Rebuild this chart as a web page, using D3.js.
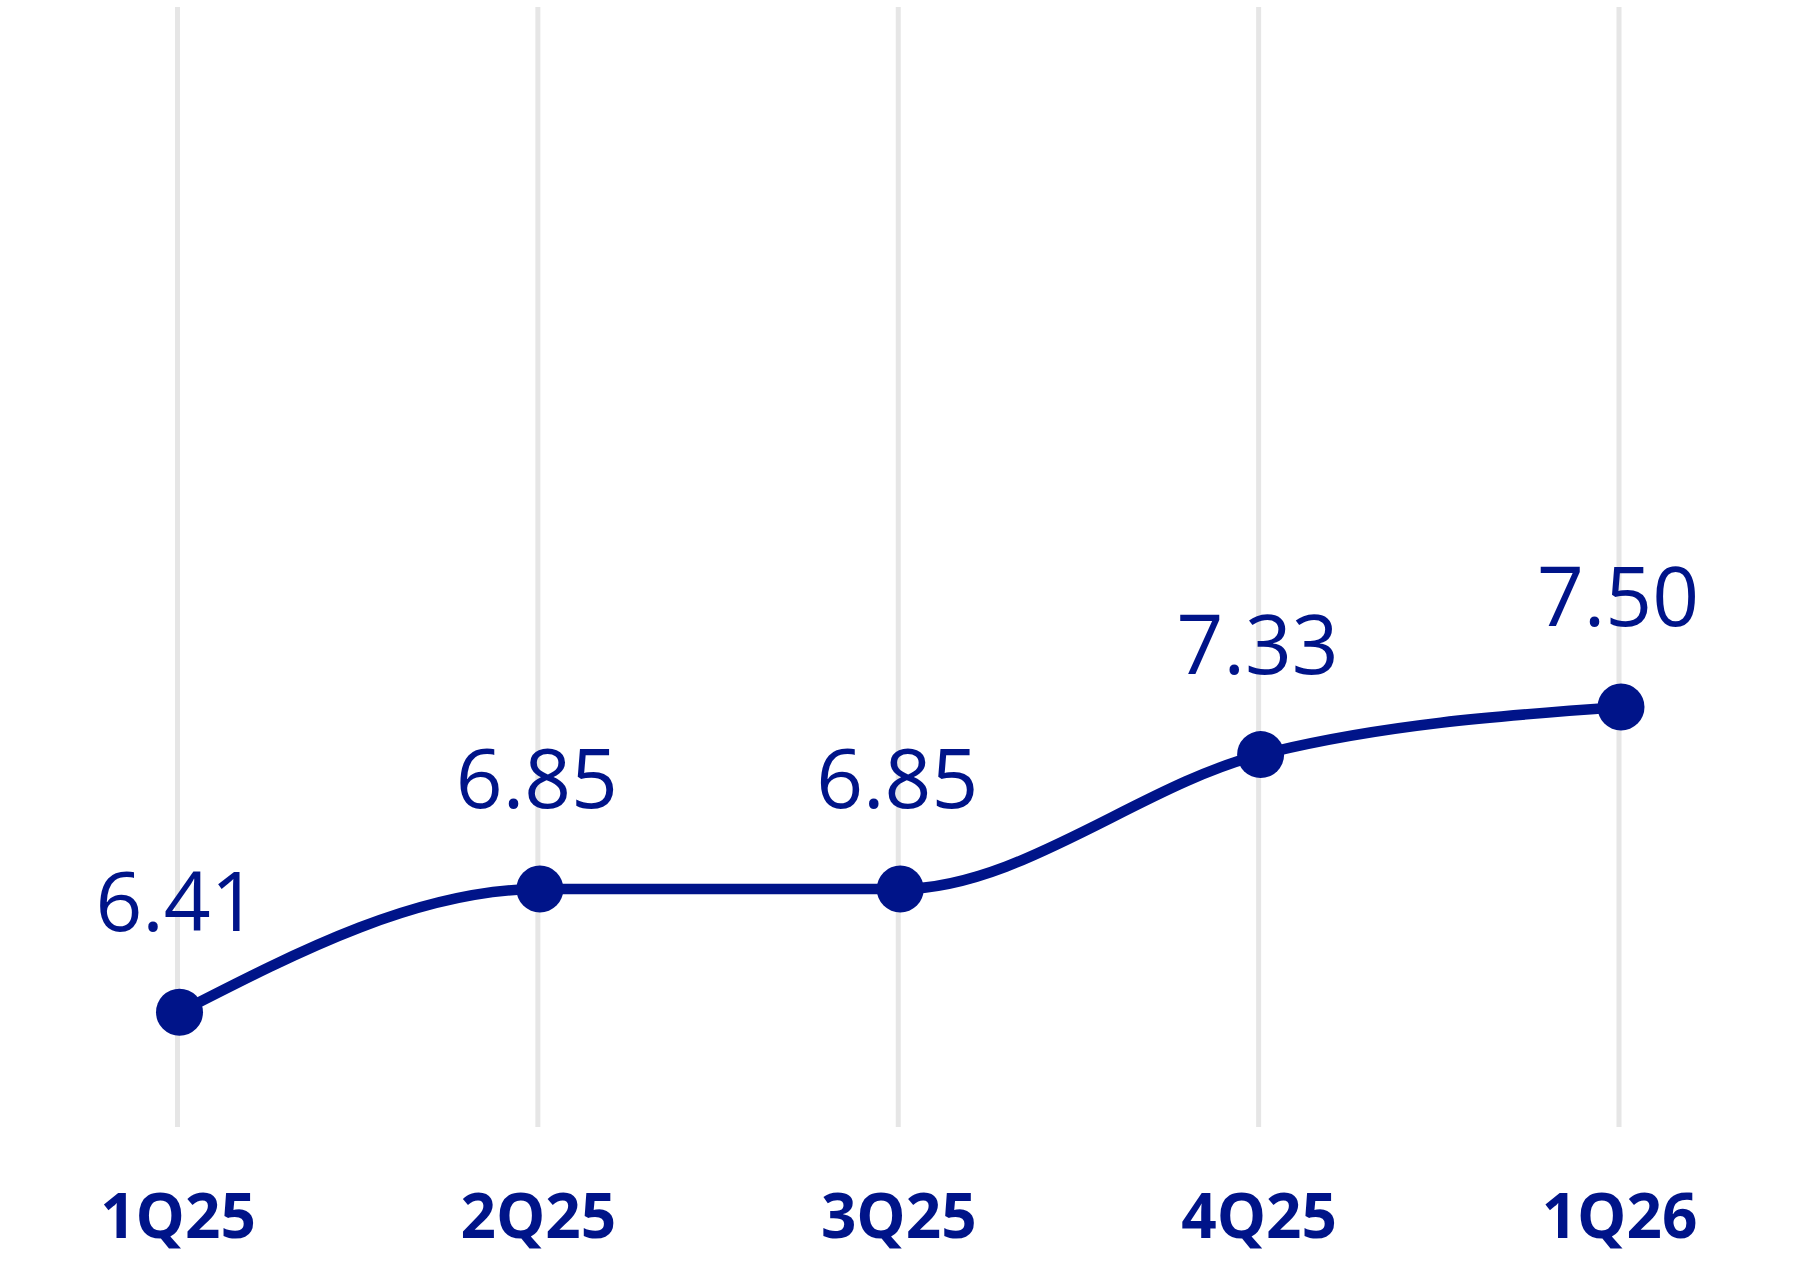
<!DOCTYPE html>
<html>
<head>
<meta charset="utf-8">
<script src="https://cdn.jsdelivr.net/npm/d3@7"></script>
<style>
  body { margin: 0; background: #fff; }
  svg { display: block; }
</style>
</head>
<body>
<svg></svg>
<script>
const quarters = [ '1Q25', '2Q25', '3Q25', '4Q25', '1Q26' ];
const values = [ 6.41, 6.85, 6.85, 7.33, 7.50 ];
const valueLabels = [ '6.41', '6.85', '6.85', '7.33', '7.50' ];

const width = 1800;
const height = 1266;
const navy = '#001489';

let svg = d3.select( 'svg' )
  .attr( 'width', width )
  .attr( 'height', height );

let x = d3.scalePoint()
  .domain( quarters )
  .range( [ 179.5, 1621 ] );

// plot area runs from the top of the grid lines to their bottom
let y = d3.scaleLinear()
  .domain( [ 6, 10 ] )
  .range( [ 1127, 7 ] );

// vertical grid lines
svg.append( 'g' )
  .selectAll( 'line' )
  .data( quarters )
  .enter().append( 'line' )
  .attr( 'x1', d => x( d ) - 2 )
  .attr( 'x2', d => x( d ) - 2 )
  .attr( 'y1', y.range()[ 1 ] )
  .attr( 'y2', y.range()[ 0 ] )
  .attr( 'stroke', '#e6e6e6' )
  .attr( 'stroke-width', 5 );

// category labels
let xAxis = svg.append( 'g' )
  .attr( 'transform', 'translate(0,' + y.range()[ 0 ] + ')' )
  .call( d3.axisBottom( x ).tickSize( 0 ).tickPadding( 0 ) );
xAxis.select( '.domain' ).remove();
xAxis.selectAll( 'text' )
  .attr( 'dy', null )
  .attr( 'y', 111 )
  .attr( 'x', -2 )
  .attr( 'fill', navy )
  .style( 'font-family', '"Open Sans", sans-serif' )
  .style( 'font-weight', 700 )
  .style( 'font-size', '62px' );

let points = quarters.map( ( q, i ) => ( { q: q, v: values[ i ], label: valueLabels[ i ] } ) );

let line = d3.line()
  .x( d => x( d.q ) )
  .y( d => y( d.v ) )
  .curve( d3.curveMonotoneX );

svg.append( 'path' )
  .datum( points )
  .attr( 'd', line )
  .attr( 'fill', 'none' )
  .attr( 'stroke', navy )
  .attr( 'stroke-width', 10.5 );

svg.append( 'g' )
  .selectAll( 'circle' )
  .data( points )
  .enter().append( 'circle' )
  .attr( 'cx', d => x( d.q ) )
  .attr( 'cy', d => y( d.v ) )
  .attr( 'r', 23.5 )
  .attr( 'fill', navy );

svg.append( 'g' )
  .selectAll( 'text' )
  .data( points )
  .enter().append( 'text' )
  .attr( 'x', d => x( d.q ) - 3 )
  .attr( 'y', d => y( d.v ) - 81 )
  .attr( 'text-anchor', 'middle' )
  .attr( 'fill', navy )
  .style( 'font-family', '"Open Sans", sans-serif' )
  .style( 'font-size', '82px' )
  .text( d => d.label );
</script>
</body>
</html>
